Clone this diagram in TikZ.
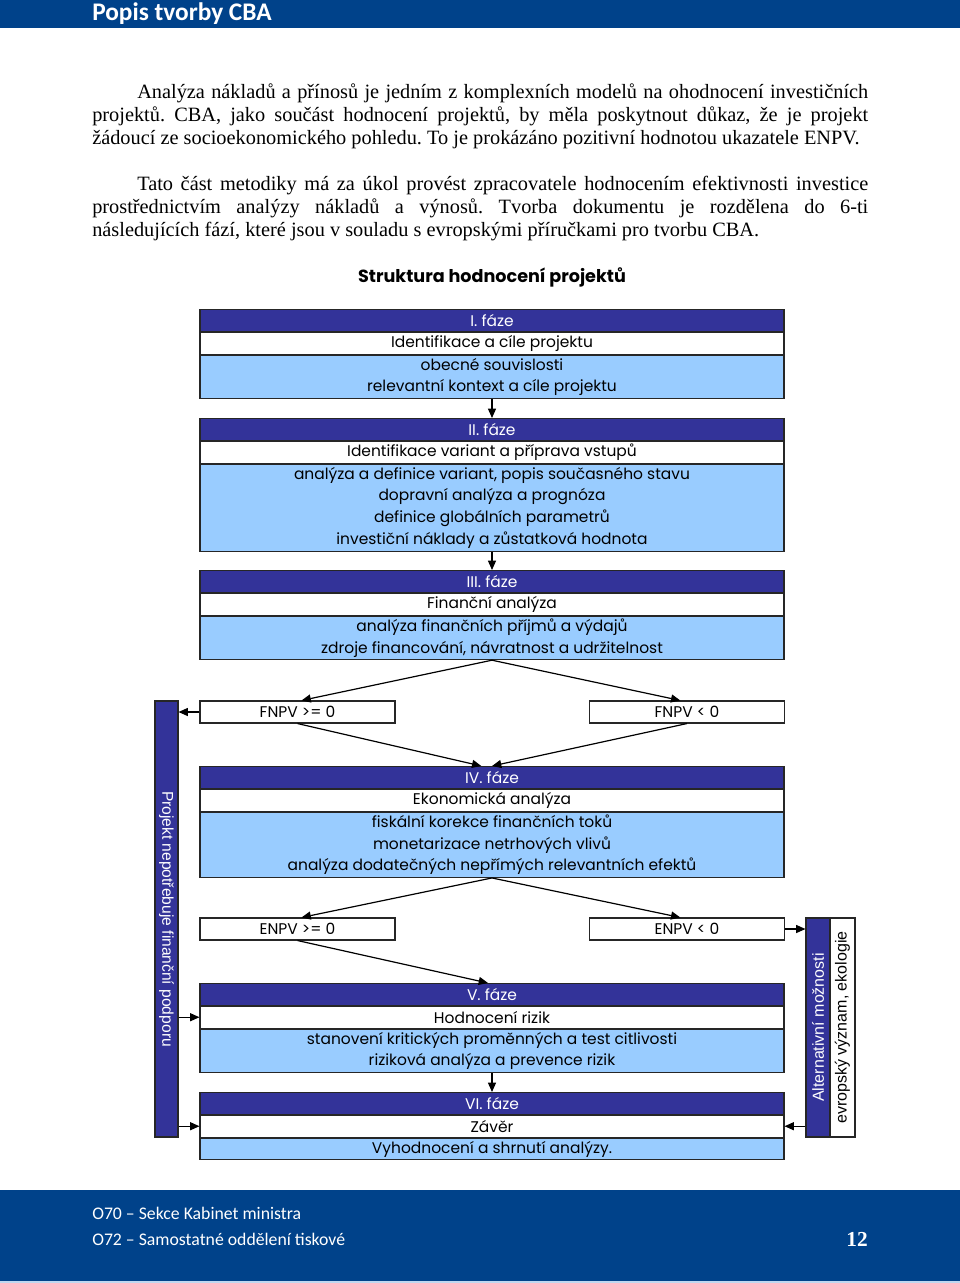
\documentclass[tikz,border=0pt]{standalone}
\usepackage{fontspec}
\setmainfont{Liberation Serif}
\newfontfamily\dgfont{Poppins}
\newfontfamily\calfont{Carlito}
\newfontfamily\arialfont{Liberation Sans}
\usetikzlibrary{arrows.meta}
\definecolor{hblue}{HTML}{00428A}
\definecolor{dkblue}{HTML}{333399}
\definecolor{ltblue}{HTML}{99CCFF}
\definecolor{lineblue}{HTML}{BFD7F0}
\frenchspacing
\tikzset{
  row/.style={draw=black!85, line width=0.8pt, minimum width=438pt, inner sep=0pt,
    anchor=north, font=\dgfont\fontsize{11.6}{16.31}\selectfont, align=center},
  phead/.style={row, fill=dkblue, text=white, minimum height=16.31pt},
  ptitle/.style={row, fill=white, minimum height=16.31pt},
  pbody/.style={row, fill=ltblue},
  cond/.style={draw=black!85, line width=0.8pt, fill=white, minimum width=146.25pt,
    minimum height=16.5pt, inner sep=0pt, font=\dgfont\fontsize{11.6}{13}\selectfont},
  arr/.style={-{Triangle[length=7pt,width=6pt]}, line width=0.9pt},
  bodytxt/.style={anchor=base west, inner sep=0pt, font=\fontsize{15.25}{17}\selectfont},
  foot/.style={anchor=base west, inner sep=0pt, text=white, font=\calfont\fontsize{13.3}{15}\selectfont},
}
\begin{document}
\begin{tikzpicture}[x=0.75pt,y=-0.75pt]
\useasboundingbox (0,0) rectangle (960,1283);
\fill[white] (0,0) rectangle (960,1283);
% header
\fill[hblue] (0,0) rectangle (960,28);
\node[anchor=base west, inner sep=0pt, text=white, font=\calfont\bfseries\fontsize{19}{21}\selectfont] (title) at (92,20) {Popis tvorby CBA};
% body text
\node[bodytxt] (t1) at (137,98) {\makebox[548.25pt][s]{Analýza nákladů a přínosů je jedním z komplexních modelů na ohodnocení investičních}};
\node[bodytxt] (t2) at (92,121) {\makebox[582pt][s]{projektů. CBA, jako součást hodnocení projektů, by měla poskytnout důkaz, že je projekt}};
\node[bodytxt] (t3) at (92,144) {žádoucí ze socioekonomického pohledu. To je prokázáno pozitivní hodnotou ukazatele ENPV.};
\node[bodytxt] (t4) at (137,190) {\makebox[548.25pt][s]{Tato část metodiky má za úkol provést zpracovatele hodnocením efektivnosti investice}};
\node[bodytxt] (t5) at (92,213) {\makebox[582pt][s]{prostřednictvím analýzy nákladů a výnosů. Tvorba dokumentu je rozdělena do 6-ti}};
\node[bodytxt] (t6) at (92,236) {následujících fází, které jsou v souladu s evropskými příručkami pro tvorbu CBA.};
% diagram title
\node[inner sep=0pt, font=\dgfont\bfseries\fontsize{13.2}{15}\selectfont] (dtitle) at (492,277) {Struktura hodnocení projektů};
% phase I
\node[phead] (p1h) at (492,309) {I. fáze};
\node[ptitle] (p1t) at (p1h.south) {Identifikace a cíle projektu};
\node[pbody, minimum height=32.62pt] (p1b) at (p1t.south) {obecné souvislosti\\relevantní kontext a cíle projektu};
% phase II
\node[phead] (p2h) at (492,418) {II. fáze};
\node[ptitle] (p2t) at (p2h.south) {Identifikace variant a příprava vstupů};
\node[pbody, minimum height=65.25pt] (p2b) at (p2t.south) {analýza a definice variant, popis současného stavu\\dopravní analýza a prognóza\\definice globálních parametrů\\investiční náklady a zůstatková hodnota};
% phase III
\node[phead] (p3h) at (492,570) {III. fáze};
\node[ptitle] (p3t) at (p3h.south) {Finanční analýza};
\node[pbody, minimum height=32.62pt] (p3b) at (p3t.south) {analýza finančních příjmů a výdajů\\zdroje financování, návratnost a udržitelnost};
% FNPV
\node[cond] (fp) at (297.5,712) {FNPV >= 0};
\node[cond] (fn) at (687,712) {FNPV < 0};
% phase IV
\node[phead] (p4h) at (492,766) {IV. fáze};
\node[ptitle] (p4t) at (p4h.south) {Ekonomická analýza};
\node[pbody, minimum height=48.94pt] (p4b) at (p4t.south) {fiskální korekce finančních toků\\monetarizace netrhových vlivů\\analýza dodatečných nepřímých relevantních efektů};
% ENPV
\node[cond] (ep) at (297.5,929) {ENPV >= 0};
\node[cond] (en) at (687,929) {ENPV < 0};
% phase V
\node[phead] (p5h) at (492,983) {V. fáze};
\node[ptitle] (p5t) at (p5h.south) {Hodnocení rizik};
\node[pbody, minimum height=32.62pt] (p5b) at (p5t.south) {stanovení kritických proměnných a test citlivosti\\riziková analýza a prevence rizik};
% phase VI
\node[phead] (p6h) at (492,1092) {VI. fáze};
\node[ptitle] (p6t) at (p6h.south) {Závěr};
\node[pbody, minimum height=16.31pt] (p6b) at (p6t.south) {Vyhodnocení a shrnutí analýzy.};
% side bars
\node[draw=black!85, line width=0.8pt, fill=dkblue, text=white, minimum width=17.25pt, minimum height=327pt, inner sep=0pt,
  font=\arialfont\fontsize{11.7}{13}\selectfont] (lbar) at (166.5,919) {\rotatebox{-90}{Projekt nepotřebuje finanční podporu}};
\node[draw=black!85, line width=0.8pt, fill=dkblue, text=white, minimum width=18pt, minimum height=164.25pt, inner sep=0pt,
  font=\arialfont\fontsize{12}{13}\selectfont] (rbar) at (818,1027.5) {\rotatebox{90}{Alternativní možnosti}};
\node[draw=black!85, line width=0.8pt, fill=white, minimum width=18.75pt, minimum height=164.25pt, inner sep=0pt,
  font=\arialfont\fontsize{12}{13}\selectfont] (rbar2) at (842.5,1027.5) {\rotatebox{90}{evropský význam, ekologie}};
% connectors
\draw[arr] (p1b.south) -- (p2h.north);
\draw[arr] (p2b.south) -- (p3h.north);
\draw[arr] (p3b.south) -- ([xshift=3pt]fp.north);
\draw[arr] (p3b.south) -- ([xshift=-5pt]fn.north);
\draw[arr] (fp.south) -- ([xshift=-8pt]p4h.north);
\draw[arr] (fn.south) -- ([xshift=0pt]p4h.north);
\draw[arr] (p4b.south) -- ([xshift=3pt]ep.north);
\draw[arr] (p4b.south) -- ([xshift=-5pt]en.north);
\draw[arr] (ep.south) -- ([xshift=-3pt]p5h.north);
\draw[arr] (p5b.south) -- (p6h.north);
\draw[arr] (fp.west) -- (fp.west -| lbar.east);
\draw[arr] (p5t.west -| lbar.east) -- (p5t.west);
\draw[arr] (p6t.west -| lbar.east) -- (p6t.west);
\draw[arr] (en.east) -- (en.east -| rbar.west);
\draw[arr] (p6t.east -| rbar.west) -- (p6t.east);
% footer
\fill[hblue] (0,1190) rectangle (960,1281);
\fill[lineblue] (0,1281) rectangle (960,1283);
\node[foot] (f1) at (92,1219) {O70 – Sekce Kabinet ministra};
\node[foot] (f2) at (92,1245) {O72 – Samostatné oddělení tiskové};
\node[anchor=base east, inner sep=0pt, text=white, font=\bfseries\fontsize{16}{18}\selectfont] (pg) at (868,1246) {12};
\end{tikzpicture}
\end{document}
